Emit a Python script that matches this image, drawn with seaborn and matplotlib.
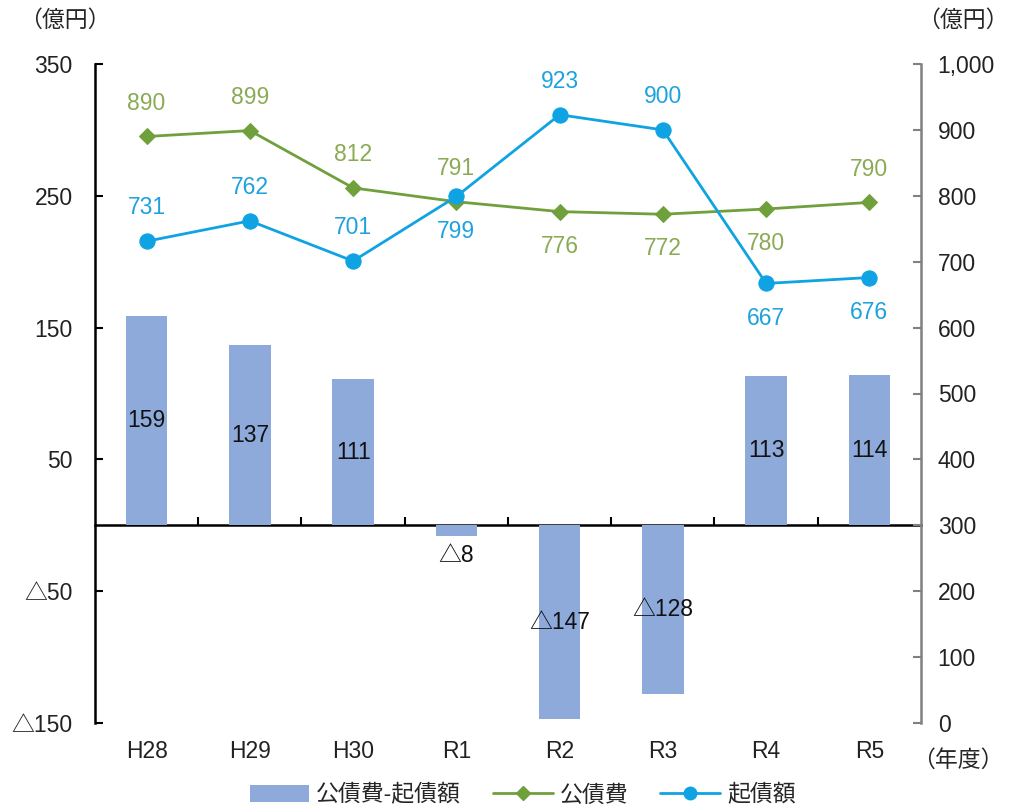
import numpy as np
import pandas as pd
import seaborn as sns
import matplotlib
matplotlib.use("Agg")
import matplotlib.pyplot as plt
from matplotlib.lines import Line2D
from matplotlib.patches import Patch
from matplotlib.ticker import FuncFormatter

# ---- data ----
years = ["H28", "H29", "H30", "R1", "R2", "R3", "R4", "R5"]
diff = [159, 137, 111, -8, -147, -128, 113, 114]          # 公債費-起債額
kosaihi = [890, 899, 812, 791, 776, 772, 780, 790]        # 公債費
kisaigaku = [731, 762, 701, 799, 923, 900, 667, 676]      # 起債額
left_ticks = [-150, -50, 50, 150, 250, 350]
right_ticks = list(range(0, 1001, 100))
green_pos = ["a", "a", "a", "a", "b", "b", "b", "a"]
blue_pos = ["a", "a", "a", "b", "a", "a", "b", "b"]

BAR_C = "#8EAADB"
GREEN = "#70A03C"
GREEN_T = "#8AAA55"
BLUE = "#0FA3E3"
BLUE_T = "#1EA2DF"

sns.set_theme(style="white")
plt.rcParams["font.family"] = ["Liberation Sans", "Noto Sans CJK JP", "DejaVu Sans"]

FS = 16.5

fig = plt.figure(figsize=(10.11, 8.11), dpi=100)
fig.patch.set_facecolor("white")
ax = fig.add_axes([95 / 1011, 1 - 723 / 811, 826 / 1011, 659 / 811])

df = pd.DataFrame({"year": years, "diff": diff})
sns.barplot(data=df, x="year", y="diff", color=BAR_C, width=0.4,
            saturation=1, ax=ax, zorder=2, linewidth=0)
ax.set_xlim(-0.5, 7.5)
ax.set_ylim(-150, 350)

ax2 = ax.twinx()
x = np.arange(len(years))
sns.lineplot(x=x, y=kosaihi, ax=ax2, color=GREEN, marker="D", markersize=8,
             markeredgecolor=GREEN, linewidth=2)
sns.lineplot(x=x, y=kisaigaku, ax=ax2, color=BLUE, marker="o", markersize=11,
             markeredgecolor=BLUE, linewidth=2)
ax2.set_ylim(0, 1000)
ax.set_xlim(-0.5, 7.5)

# spines
for s in ["top", "right", "bottom"]:
    ax.spines[s].set_visible(False)
ax.spines["left"].set_color("black")
ax.spines["left"].set_linewidth(1.8)
for s in ["top", "left", "bottom"]:
    ax2.spines[s].set_visible(False)
ax2.spines["right"].set_color("#808080")
ax2.spines["right"].set_linewidth(1.8)

# y axes
def tri(v, pos=None):
    v = int(round(v))
    return f"△{abs(v)}" if v < 0 else f"{v}"

ax.set_yticks(left_ticks)
ax.set_yticklabels([tri(v) for v in left_ticks])
ax.tick_params(axis="y", direction="in", length=6, width=1.5, color="black",
               pad=16, labelsize=FS, labelcolor="#222222", left=True)
ax.set_ylabel("")

ax2.set_yticks(right_ticks)
ax2.yaxis.set_major_formatter(FuncFormatter(lambda v, p: f"{int(v):,}"))
ax2.tick_params(axis="y", direction="in", length=6, width=1.5, color="#808080",
                pad=12, labelsize=FS, labelcolor="#222222", right=True)
ax2.set_ylabel("")

# x axis labels at bottom
ax.set_xticks(range(len(years)))
ax.set_xticklabels(years)
ax.tick_params(axis="x", length=0, pad=12, labelsize=FS, labelcolor="#222222")
ax.set_xlabel("")

# zero line with boundary ticks
sec = ax.secondary_xaxis(150 / 500)
sec.spines["bottom"].set_linewidth(1.8)
sec.spines["bottom"].set_color("black")
sec.set_xticks(np.arange(0.5, len(years) - 1, 1.0))
sec.set_xticklabels([""] * (len(years) - 1))
sec.tick_params(axis="x", direction="in", length=6, width=1.5, color="black")

# bar labels
for i, v in enumerate(diff):
    if v >= 0:
        ax.text(i, v / 2, str(v), ha="center", va="center", fontsize=FS,
                color="#111111", zorder=5)
    elif abs(v) < 30:
        ax.text(i, v - 6, tri(v), ha="center", va="top", fontsize=FS,
                color="#111111", zorder=5)
    else:
        ax.text(i, v / 2, tri(v), ha="center", va="center", fontsize=FS,
                color="#111111", zorder=5)

# line labels
for i, v in enumerate(kosaihi):
    off = 24 if green_pos[i] == "a" else -25
    ax2.annotate(str(v), (i, v), xytext=(0, off), textcoords="offset points",
                 ha="center", va="center", fontsize=FS, color=GREEN_T)
for i, v in enumerate(kisaigaku):
    off = 24 if blue_pos[i] == "a" else -25
    ax2.annotate(str(v), (i, v), xytext=(0, off), textcoords="offset points",
                 ha="center", va="center", fontsize=FS, color=BLUE_T)

# unit labels
fig.text(65 / 1011, 1 - 20 / 811, "（億円）", ha="center", va="center", fontsize=FS)
fig.text(963 / 1011, 1 - 20 / 811, "（億円）", ha="center", va="center", fontsize=FS)
fig.text(958 / 1011, 1 - 760 / 811, "（年度）", ha="center", va="center", fontsize=FS)

# legend
handles = [
    Patch(facecolor=BAR_C, edgecolor="none"),
    Line2D([0], [0], color=GREEN, marker="D", markersize=7, linewidth=2),
    Line2D([0], [0], color=BLUE, marker="o", markersize=9, linewidth=2),
]
labels = ["公債費-起債額", "公債費", "起債額"]
fig.legend(handles, labels, loc="center", bbox_to_anchor=(0.517, 1 - 795 / 811),
           ncol=3, frameon=False, handlelength=2.6, fontsize=FS,
           columnspacing=1.4, handletextpad=0.3)

fig.savefig("out.png", dpi=100, facecolor="white")
